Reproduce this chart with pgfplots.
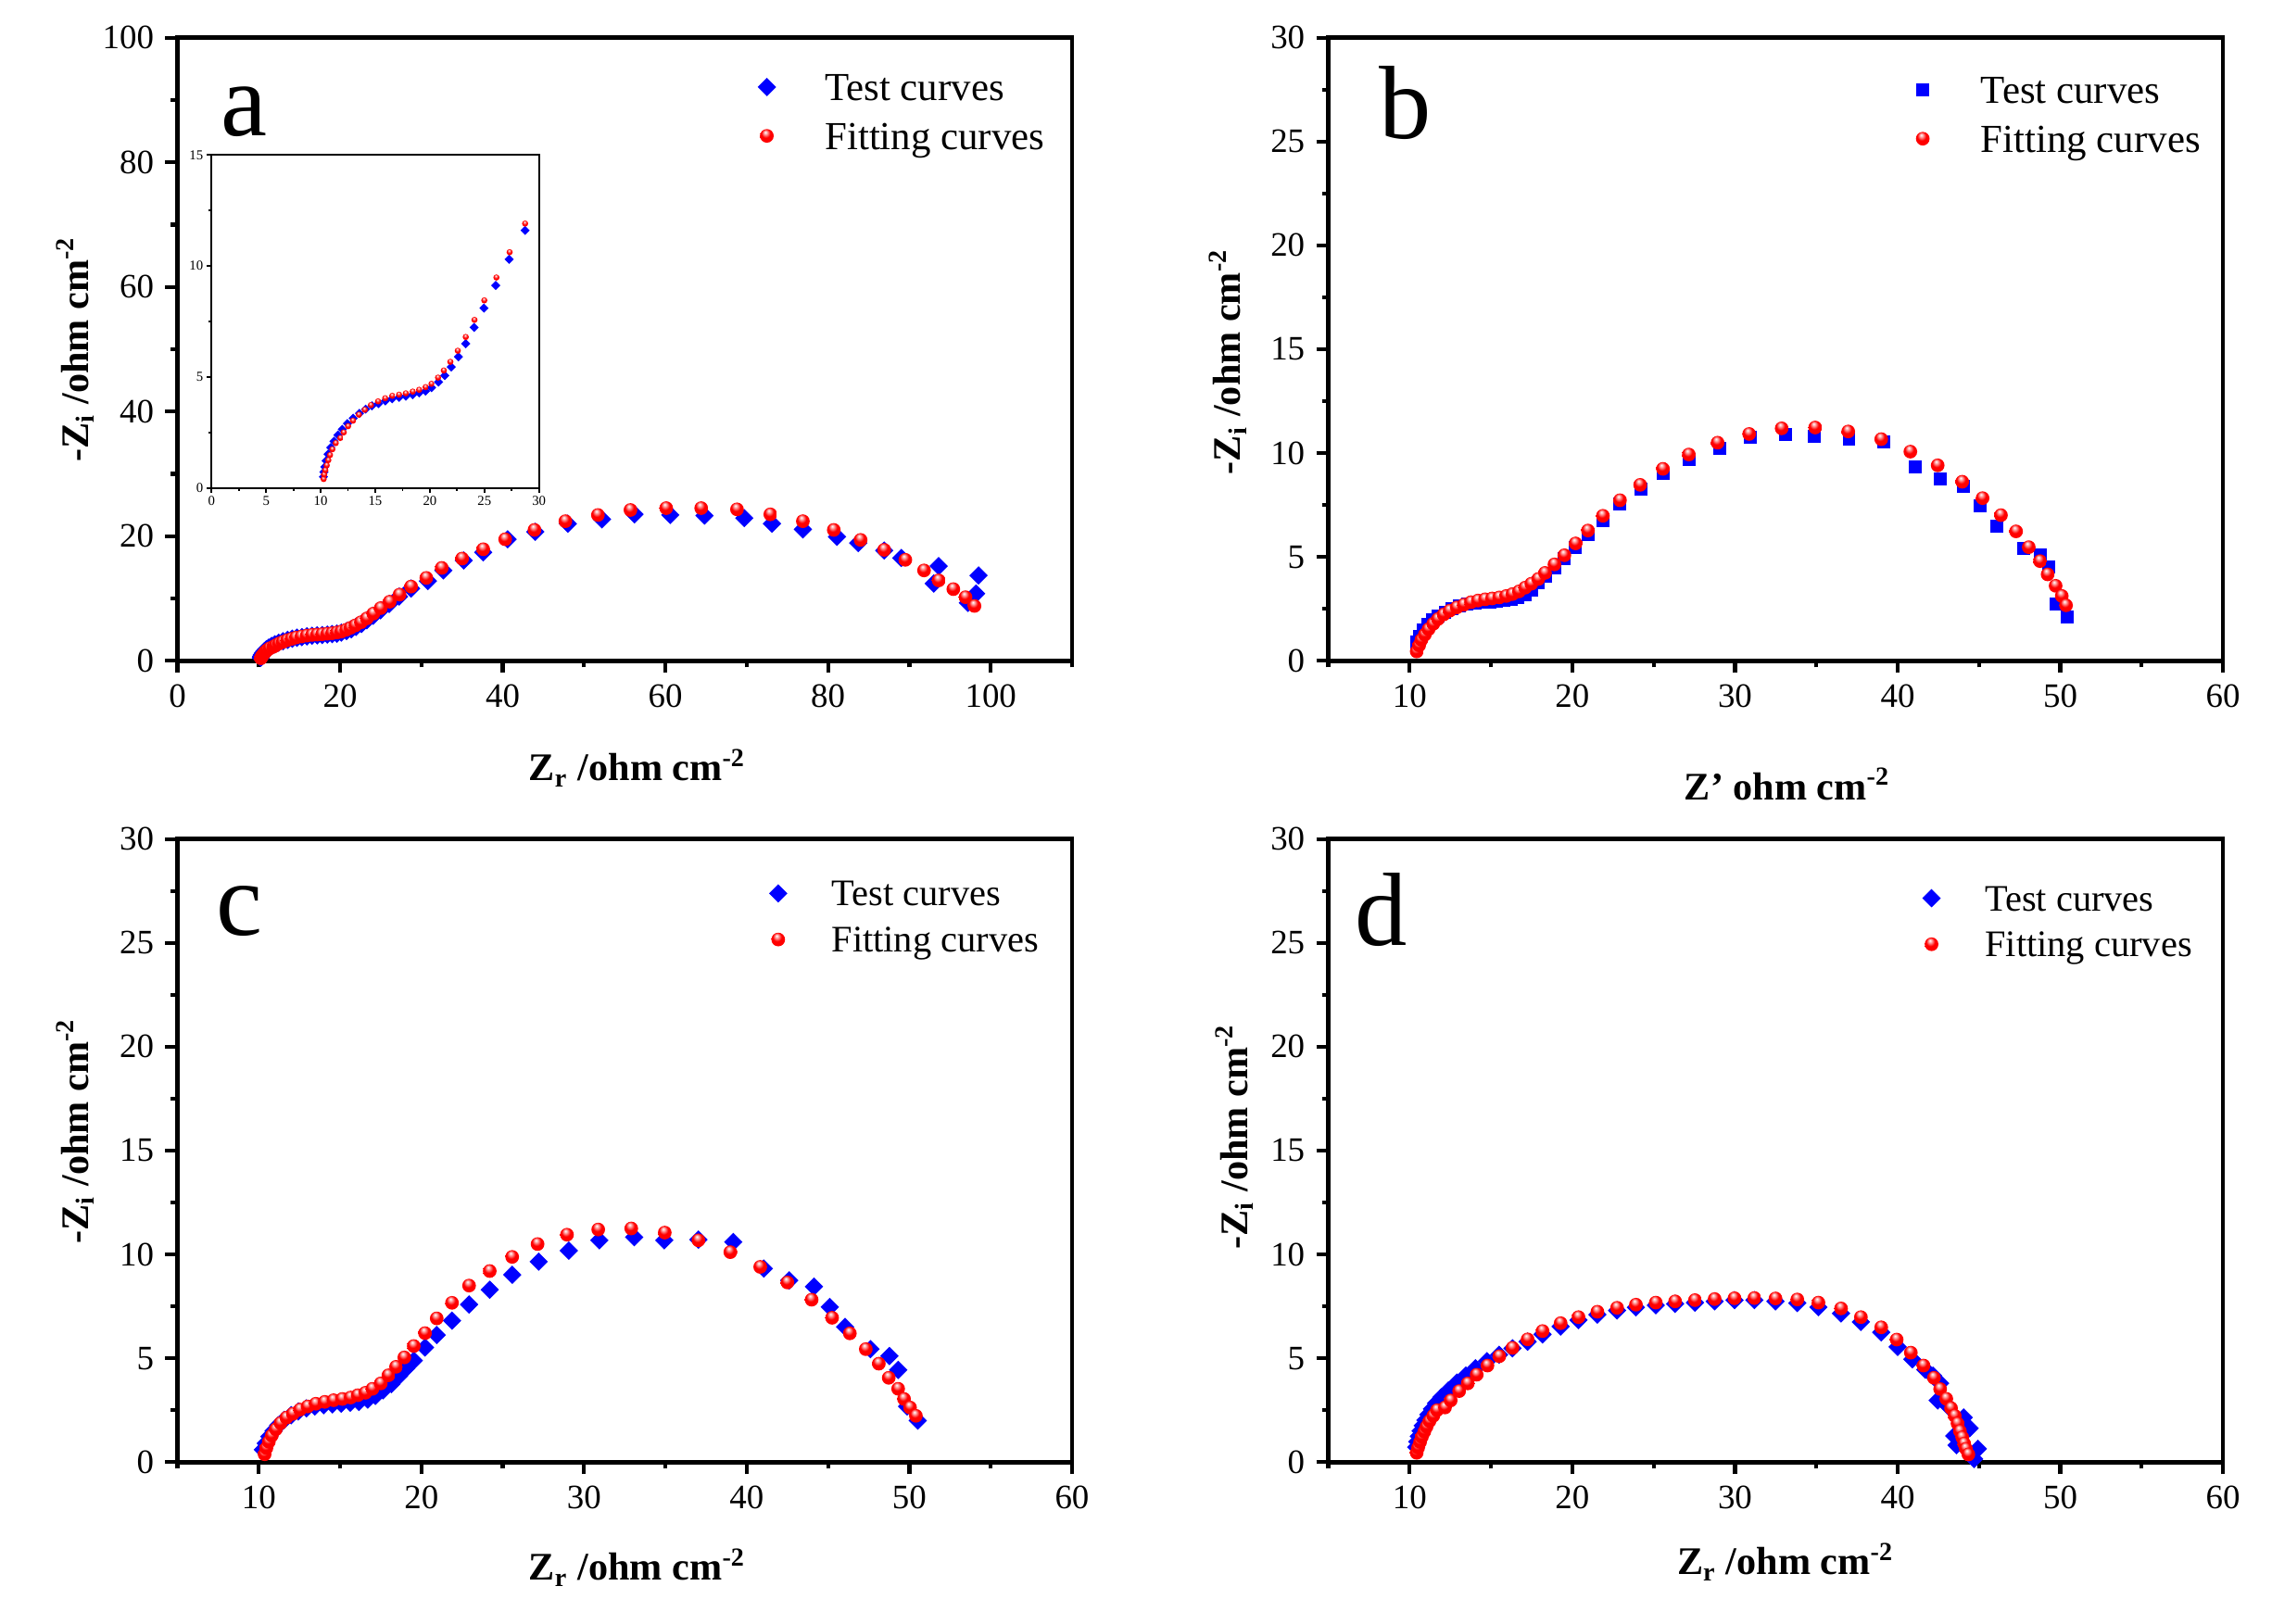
\documentclass[border=0pt]{standalone}
\usepackage{fontspec}
\setmainfont{Liberation Serif}
\usepackage{pgfplots}
\usepackage{pgfplotstable}
\pgfplotsset{compat=1.18}

% red ball mark with a white highlight
\pgfdeclareradialshading{redball}{\pgfpoint{-6bp}{14bp}}{color(0bp)=(white); color(6bp)=(red!35!white); color(16bp)=(red); color(50bp)=(red)}
\pgfdeclareplotmark{rball}{%
  \pgfpathcircle{\pgfpointorigin}{\pgfplotmarksize}%
  \pgfshadepath{redball}{0}%
  \pgfusepath{discard}%
}

% ---------- panel a (main + inset share the data)
\pgfplotstableread{
x y
10.25 0.50
10.30 0.72
10.38 0.95
10.50 1.22
10.68 1.52
10.92 1.82
11.22 2.10
11.58 2.38
11.98 2.64
12.45 2.90
12.98 3.14
13.55 3.36
14.12 3.55
14.70 3.70
15.30 3.80
15.92 3.92
16.55 4.02
17.18 4.08
17.80 4.13
18.43 4.20
19.02 4.28
19.61 4.36
20.15 4.52
20.80 4.77
21.37 5.06
21.96 5.45
22.62 5.91
23.29 6.50
24.06 7.23
24.96 8.10
26.04 9.12
27.26 10.30
28.73 11.60
30.8 12.8
32.7 14.5
35.2 16.1
37.6 17.4
40.6 19.5
44.0 20.7
48.0 22.0
52.2 22.7
56.2 23.5
60.6 23.4
64.8 23.3
69.7 22.9
73.1 22.0
76.9 21.1
81.1 19.9
83.7 18.9
86.9 17.7
89.0 16.5
93.6 15.2
93.0 12.4
97.2 9.3
98.2 10.8
98.5 13.7
}\atest
\pgfplotstableread{
x y
10.27 0.40
10.32 0.60
10.42 0.80
10.55 1.02
10.70 1.25
10.85 1.48
11.07 1.74
11.38 2.02
11.80 2.25
12.11 2.50
12.51 2.78
12.96 3.03
13.50 3.30
14.04 3.52
14.60 3.73
15.26 3.90
15.91 4.04
16.56 4.15
17.18 4.20
17.80 4.26
18.43 4.34
19.02 4.42
19.61 4.54
20.15 4.69
20.75 4.97
21.28 5.29
21.88 5.68
22.56 6.18
23.29 6.80
24.09 7.57
24.99 8.45
26.10 9.48
27.31 10.62
28.73 11.91
30.6 13.3
32.5 14.9
35.0 16.4
37.6 17.9
40.3 19.5
43.9 21.0
47.7 22.4
51.7 23.4
55.7 24.2
60.1 24.5
64.4 24.5
68.8 24.3
72.9 23.5
76.9 22.4
80.7 21.0
84.0 19.4
86.9 17.8
89.5 16.2
91.8 14.5
93.6 12.9
95.4 11.5
96.9 10.2
98.0 8.8
}\afit

% ---------- panel b
\pgfplotstableread{
x y
10.43 0.89
10.58 1.19
10.81 1.49
11.10 1.75
11.39 1.96
11.74 2.15
12.17 2.35
12.61 2.50
13.04 2.63
13.54 2.72
14.00 2.78
14.43 2.82
14.93 2.82
15.36 2.85
15.80 2.90
16.23 2.97
16.67 3.05
17.10 3.19
17.48 3.42
17.88 3.74
18.35 4.09
18.90 4.46
19.51 4.93
20.20 5.47
20.96 6.09
21.88 6.76
22.93 7.55
24.20 8.28
25.59 9.00
27.19 9.69
29.04 10.22
30.96 10.77
33.13 10.88
34.87 10.82
37.01 10.67
39.13 10.52
41.07 9.33
42.61 8.77
44.06 8.40
45.07 7.46
46.09 6.46
47.77 5.42
48.75 5.10
49.28 4.53
49.71 2.75
50.43 2.11
}\btest
\pgfplotstableread{
x y
10.43 0.45
10.58 0.74
10.72 1.01
10.93 1.26
11.16 1.52
11.45 1.78
11.74 2.01
12.09 2.23
12.46 2.41
12.90 2.57
13.33 2.70
13.77 2.82
14.20 2.90
14.64 2.96
15.07 3.00
15.51 3.05
15.94 3.12
16.32 3.21
16.72 3.34
17.10 3.52
17.48 3.71
17.91 3.94
18.32 4.23
18.90 4.64
19.51 5.08
20.20 5.65
20.96 6.27
21.88 6.98
22.93 7.73
24.17 8.47
25.57 9.24
27.16 9.93
28.93 10.50
30.87 10.92
32.87 11.19
34.93 11.23
36.96 11.04
38.99 10.67
40.78 10.07
42.46 9.41
43.97 8.62
45.22 7.83
46.35 7.01
47.28 6.23
48.06 5.47
48.75 4.80
49.22 4.16
49.71 3.61
50.09 3.12
50.35 2.67
}\bfit

% ---------- panel c
\pgfplotstableread{
x y
10.25 0.60
10.43 0.90
10.65 1.23
10.91 1.50
11.20 1.77
11.56 2.03
11.99 2.26
12.43 2.44
12.93 2.59
13.44 2.68
13.99 2.74
14.53 2.78
15.07 2.81
15.62 2.86
16.16 2.90
16.70 3.01
17.17 3.19
17.64 3.46
18.15 3.76
18.62 4.14
19.06 4.51
19.53 4.89
20.22 5.52
20.94 6.12
21.88 6.81
22.93 7.59
24.20 8.30
25.58 9.02
27.21 9.65
29.06 10.18
30.94 10.68
33.08 10.83
34.93 10.68
37.03 10.71
39.17 10.60
41.05 9.32
42.61 8.75
44.13 8.45
45.11 7.47
46.05 6.51
47.61 5.44
48.77 5.11
49.31 4.44
49.86 2.68
50.51 2.00
}\ctest
\pgfplotstableread{
x y
10.36 0.38
10.47 0.68
10.62 0.98
10.80 1.28
11.05 1.58
11.34 1.88
11.70 2.14
12.10 2.33
12.54 2.53
13.01 2.68
13.51 2.81
14.06 2.90
14.60 2.98
15.14 3.04
15.65 3.11
16.09 3.22
16.56 3.34
16.99 3.53
17.50 3.79
17.97 4.18
18.44 4.59
18.95 5.04
19.53 5.59
20.22 6.21
20.94 6.92
21.88 7.67
22.93 8.50
24.20 9.20
25.58 9.88
27.14 10.50
28.95 10.95
30.87 11.20
32.90 11.25
34.96 11.05
37.03 10.68
38.99 10.11
40.83 9.40
42.50 8.65
43.99 7.82
45.25 6.95
46.34 6.20
47.32 5.44
48.12 4.74
48.73 4.06
49.31 3.53
49.67 3.04
50.04 2.63
50.40 2.23
}\cfit

% ---------- panel d
\pgfplotstableread{
x y
10.40 0.72
10.47 0.98
10.56 1.24
10.67 1.50
10.80 1.76
10.96 2.02
11.15 2.29
11.37 2.56
11.62 2.83
11.95 3.12
12.38 3.45
12.90 3.83
13.45 4.17
14.05 4.52
14.75 4.86
15.50 5.17
16.32 5.48
17.25 5.80
18.17 6.15
19.28 6.53
20.38 6.84
21.54 7.10
22.75 7.30
23.91 7.45
25.13 7.55
26.32 7.62
27.54 7.68
28.75 7.74
29.97 7.80
31.19 7.80
32.49 7.74
33.83 7.66
35.13 7.46
36.52 7.16
37.74 6.75
38.99 6.25
40.00 5.55
40.90 4.95
41.70 4.45
42.17 4.16
42.61 3.80
42.46 2.97
43.10 2.70
44.06 2.15
44.43 1.63
43.48 1.26
43.62 0.82
44.93 0.64
44.70 0.15
}\dtest
\pgfplotstableread{
x y
10.43 0.45
10.52 0.70
10.64 0.97
10.75 1.22
10.90 1.47
11.04 1.71
11.22 1.98
11.45 2.23
11.68 2.50
12.17 2.63
12.52 2.97
13.04 3.42
13.57 3.79
14.12 4.21
14.78 4.65
15.51 5.10
16.32 5.50
17.25 5.91
18.17 6.31
19.28 6.69
20.38 6.98
21.54 7.24
22.75 7.43
23.91 7.58
25.13 7.68
26.32 7.74
27.54 7.80
28.75 7.85
29.97 7.89
31.19 7.90
32.49 7.88
33.83 7.83
35.13 7.68
36.52 7.40
37.74 6.98
38.99 6.49
39.94 5.90
40.81 5.27
41.59 4.65
42.23 4.06
42.61 3.52
42.99 3.05
43.28 2.60
43.51 2.23
43.68 1.86
43.83 1.49
43.97 1.19
44.09 0.89
44.20 0.64
44.35 0.37
}\dfit

\pgfplotsset{
  panel/.style={
    scale only axis, width=9.655cm, height=6.726cm, anchor=south west,
    axis line style={line width=1.3pt, line cap=rect},
    tick align=outside, xtick pos=bottom, ytick pos=left,
    major tick length=3.7pt, minor tick length=2pt,
    tick style={black, line width=1.2pt},
    tick label style={font=\fontsize{10.5}{12}\selectfont},
    /pgf/number format/assume math mode=true,
    label style={font=\fontsize{12}{14}\selectfont\bfseries},
    xlabel style={anchor=center}, ylabel style={anchor=center},
    clip=false, legend cell align=left,
  },
  leg/.style 2 args={legend style={at={#1}, anchor=north west, draw=none, fill=none,
    inner sep=0pt, outer sep=0pt, row sep=0pt, column sep=0pt,
    nodes={inner sep=0pt, font=\fontsize{#2}{14}\selectfont,
      text height=0.95*#2pt, text depth=0.28*#2pt}}},
  testmk/.style={only marks, color=blue, mark=square*, mark size=1.8pt,
    mark options={rotate=45},
    legend image code/.code={\path (0cm,0cm) (#1,0cm); \draw[##1] plot coordinates {(0cm,0cm)};}},
  squmk/.style={only marks, color=blue, mark=square*, mark size=1.78pt,
    legend image code/.code={\path (0cm,0cm) (#1,0cm); \draw[##1] plot coordinates {(0cm,0cm)};}},
  fitmk/.style={only marks, color=red, mark=rball, mark size=2.1pt,
    legend image code/.code={\path (0cm,0cm) (#1,0cm); \draw[##1] plot coordinates {(0cm,0cm)};}},
}
\tikzset{letter/.style={anchor=base west, inner sep=0pt, font=\fontsize{32}{36}\selectfont}}

\begin{document}
\begin{tikzpicture}
\path[use as bounding box] (0,0) rectangle (24.52cm,17.53cm);

% ===== a
\begin{axis}[panel, at={(1.915cm,10.397cm)},
  xmin=0, xmax=110, ymin=0, ymax=100,
  xtick={0,20,...,100}, minor xtick={10,30,...,110},
  ytick={0,20,...,100}, minor ytick={10,30,...,90},
  xlabel={Z\textsubscript{r} /ohm cm\textsuperscript{-2}},
  ylabel={-Z\textsubscript{i} /ohm cm\textsuperscript{-2}},
  xlabel style={at={(axis description cs:0.514,-0.172)}},
  ylabel style={at={(axis description cs:-0.114,0.50)}},
  leg={(0.6496,0.960)}{12.2}]
\addplot[testmk=0.62cm] table {\atest};
\addplot[fitmk=0.62cm] table {\afit};
\legend{Test curves, Fitting curves}
\node[letter] at (axis description cs:0.048,0.842) {a};
\end{axis}

% inset
\begin{axis}[scale only axis, width=3.534cm, height=3.594cm, anchor=south west,
  at={(2.283cm,12.263cm)},
  xmin=0, xmax=30, ymin=0, ymax=15,
  xtick={0,5,...,30}, minor xtick={2.5,7.5,...,27.5},
  ytick={0,5,10,15}, minor ytick={2.5,7.5,12.5},
  axis line style={line width=0.55pt},
  tick align=outside, xtick pos=bottom, ytick pos=left,
  major tick length=1.4pt, minor tick length=0.85pt,
  tick style={black, line width=0.5pt},
  tick label style={font=\fontsize{4.2}{5}\selectfont, inner sep=1pt},
  /pgf/number format/assume math mode=true, clip=false]
\addplot[only marks, blue, mark=square*, mark size=0.8pt, mark options={rotate=45},
  restrict x to domain=0:30] table {\atest};
\addplot[only marks, red, mark=rball, mark size=0.95pt,
  restrict x to domain=0:30] table {\afit};
\end{axis}

% ===== b
\begin{axis}[panel, at={(14.336cm,10.397cm)},
  xmin=5, xmax=60, ymin=0, ymax=30,
  xtick={10,20,...,60}, minor xtick={5,15,...,55},
  ytick={0,5,...,30}, minor ytick={2.5,7.5,...,27.5},
  xlabel={Z' ohm cm\textsuperscript{-2}},
  ylabel={-Z\textsubscript{i} /ohm cm\textsuperscript{-2}},
  xlabel style={at={(axis description cs:0.513,-0.198)}},
  ylabel style={at={(axis description cs:-0.1125,0.48)}},
  leg={(0.6568,0.9555)}{12.2}]
\addplot[squmk=0.62cm] table {\btest};
\addplot[fitmk=0.62cm] table {\bfit};
\legend{Test curves, Fitting curves}
\node[letter] at (axis description cs:0.056,0.8375) {b};
\end{axis}

% ===== c
\begin{axis}[panel, at={(1.915cm,1.747cm)},
  xmin=5, xmax=60, ymin=0, ymax=30,
  xtick={10,20,...,60}, minor xtick={5,15,...,55},
  ytick={0,5,...,30}, minor ytick={2.5,7.5,...,27.5},
  xlabel={Z\textsubscript{r} /ohm cm\textsuperscript{-2}},
  ylabel={-Z\textsubscript{i} /ohm cm\textsuperscript{-2}},
  xlabel style={at={(axis description cs:0.514,-0.169)}},
  ylabel style={at={(axis description cs:-0.114,0.531)}},
  leg={(0.6623,0.9496)}{11.5}]
\addplot[testmk=0.57cm] table {\ctest};
\addplot[fitmk=0.57cm] table {\cfit};
\legend{Test curves, Fitting curves}
\node[letter] at (axis description cs:0.043,0.846) {c};
\end{axis}

% ===== d
\begin{axis}[panel, at={(14.336cm,1.747cm)},
  xmin=5, xmax=60, ymin=0, ymax=30,
  xtick={10,20,...,60}, minor xtick={5,15,...,55},
  ytick={0,5,...,30}, minor ytick={2.5,7.5,...,27.5},
  xlabel={Z\textsubscript{r} /ohm cm\textsuperscript{-2}},
  ylabel={-Z\textsubscript{i} /ohm cm\textsuperscript{-2}},
  xlabel style={at={(axis description cs:0.511,-0.160)}},
  ylabel style={at={(axis description cs:-0.105,0.522)}},
  leg={(0.665,0.942)}{11.5}]
\addplot[testmk=0.57cm] table {\dtest};
\addplot[fitmk=0.57cm] table {\dfit};
\legend{Test curves, Fitting curves}
\node[letter] at (axis description cs:0.029,0.830) {d};
\end{axis}
\end{tikzpicture}
\end{document}
